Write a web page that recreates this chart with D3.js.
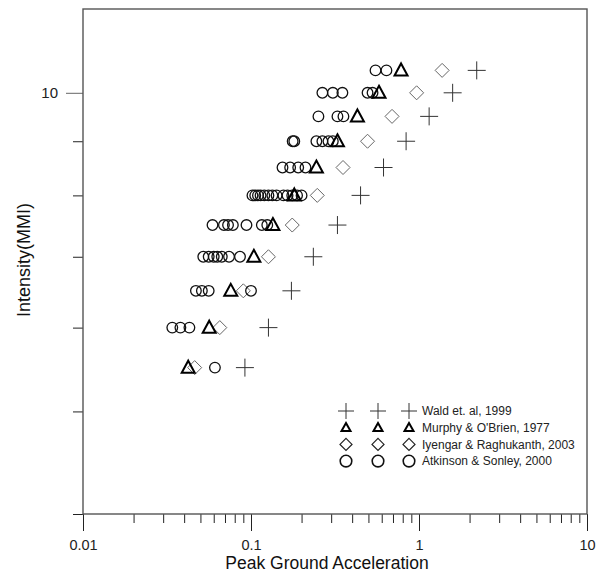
<!DOCTYPE html>
<html>
<head>
<meta charset="utf-8">
<script src="https://cdn.jsdelivr.net/npm/d3@7"></script>
<style>
  body { margin: 0; background: #fff; }
  svg { font-family: "Liberation Sans", Arial, sans-serif; }
</style>
</head>
<body>
<svg id="chart" width="598" height="573"></svg>
<script>
// MMI levels (rows of the plot)
const intensity = [5.5, 6, 6.5, 7, 7.5, 8, 8.5, 9, 9.5, 10, 10.5];

// PGA (g) for each intensity
const waldPga = [0.092, 0.127, 0.174, 0.235, 0.327, 0.449, 0.615, 0.838, 1.149, 1.586, 2.206];
const murphyPga = [0.0423, 0.0564, 0.0758, 0.104, 0.135, 0.181, 0.245, 0.327, 0.430, 0.578, 0.782];
const iyengarPga = [0.0462, 0.0652, 0.090, 0.127, 0.176, 0.248, 0.353, 0.494, 0.691, 0.968, 1.373];
// Atkinson & Sonley: several stations per intensity
const atkinsonPga = [
  [0.061],
  [0.034, 0.038, 0.043],
  [0.047, 0.051, 0.056, 0.100],
  [0.052, 0.056, 0.060, 0.063, 0.067, 0.074, 0.086],
  [0.059, 0.069, 0.073, 0.078, 0.094, 0.116, 0.125],
  [0.102, 0.106, 0.110, 0.114, 0.120, 0.127, 0.134, 0.142, 0.156, 0.165, 0.176, 0.188, 0.200],
  [0.154, 0.171, 0.191, 0.211],
  [0.177, 0.181, 0.245, 0.266, 0.289, 0.307],
  [0.252, 0.327, 0.355],
  [0.266, 0.307, 0.350, 0.494, 0.529],
  [0.551, 0.64]
];

const legendLabels = ["Wald et. al, 1999", "Murphy & O'Brien, 1977", "Iyengar & Raghukanth, 2003", "Atkinson & Sonley, 2000"];
const xMajor = [0.01, 0.1, 1, 10];
const yTicks = [4, 5, 6, 7, 8, 9, 10];

var svg = d3.select("#chart");

var x = d3.scaleLog().domain([0.01, 10]).range([83, 587]);
var y = d3.scaleLog().domain([4, 12]).range([514, 9]);

var axisColor = "#555";

// minor + major ticks on x
var xTicks = [];
xMajor.forEach(function(m, i) {
  xTicks.push(m);
  if (i < xMajor.length - 1)
    for (var k = 2; k <= 9; k++) xTicks.push(+(m * k).toPrecision(3));
});

var xAxis = svg.append("g")
  .attr("transform", "translate(0,514)")
  .call(d3.axisBottom(x)
    .tickValues(xTicks)
    .tickSize(9)
    .tickSizeOuter(0)
    .tickFormat(function(d) { return xMajor.indexOf(d) >= 0 ? String(d) : ""; }));

xAxis.select(".domain").remove();
xAxis.selectAll(".tick line").attr("stroke", "#222").attr("stroke-width", 1);
xAxis.selectAll(".tick")
  .filter(function(d) { return xMajor.indexOf(d) >= 0; })
  .select("line").attr("y2", 17);
xAxis.selectAll(".tick text")
  .attr("y", 26)
  .attr("dy", "0.71em")
  .attr("font-size", 14.5)
  .attr("fill", "#222")
  .attr("font-family", "Liberation Sans, Arial, sans-serif");

var yAxis = svg.append("g")
  .attr("transform", "translate(83,0)")
  .call(d3.axisLeft(y)
    .tickValues(yTicks)
    .tickSize(10)
    .tickSizeOuter(0)
    .tickFormat(function(d) { return d === 10 ? "10" : ""; }));

yAxis.select(".domain").remove();
yAxis.selectAll(".tick line").attr("stroke", "#222").attr("stroke-width", 1);
yAxis.selectAll(".tick")
  .filter(function(d) { return d === 10; })
  .select("line").attr("x2", -17).attr("stroke", "#666");
yAxis.selectAll(".tick text")
  .attr("x", -25)
  .attr("font-size", 15)
  .attr("fill", "#222")
  .attr("font-family", "Liberation Sans, Arial, sans-serif");

// frame
svg.append("rect")
  .attr("x", x.range()[0])
  .attr("y", y.range()[1])
  .attr("width", x.range()[1] - x.range()[0])
  .attr("height", y.range()[0] - y.range()[1])
  .attr("fill", "none")
  .attr("stroke", axisColor)
  .attr("stroke-width", 1.4);

// axis titles
svg.append("text")
  .attr("x", 327)
  .attr("y", 569)
  .attr("text-anchor", "middle")
  .attr("font-size", 17.5)
  .attr("fill", "#111")
  .text("Peak Ground Acceleration");

svg.append("text")
  .attr("transform", "translate(30,260) rotate(-90)")
  .attr("text-anchor", "middle")
  .attr("font-size", 18)
  .attr("fill", "#111")
  .text("Intensity(MMI)");

// marker shapes
const plusPath = function(a) { return "M" + (-a) + ",0H" + a + "M0," + (-a) + "V" + a; };
const triPath = function(w, h) { return "M0," + (-h * 0.58) + "L" + (w / 2) + "," + (h * 0.42) + "L" + (-w / 2) + "," + (h * 0.42) + "Z"; };
const diamondPath = function(a) { return "M0," + (-a) + "L" + a + ",0L0," + a + "L" + (-a) + ",0Z"; };

var plot = svg.append("g");

// Iyengar diamonds
plot.selectAll(".iyengar")
  .data(intensity.map(function(d, i) { return { i: d, pga: iyengarPga[i] }; }))
  .enter().append("path")
  .attr("class", "iyengar")
  .attr("transform", function(d) { return "translate(" + x(d.pga) + "," + y(d.i) + ")"; })
  .attr("d", diamondPath(7))
  .attr("fill", "none")
  .attr("stroke", "#666")
  .attr("stroke-width", 1);

// Atkinson circles
var atkPoints = [];
intensity.forEach(function(d, i) {
  atkinsonPga[i].forEach(function(p) { atkPoints.push({ i: d, pga: p }); });
});
plot.selectAll(".atkinson")
  .data(atkPoints)
  .enter().append("circle")
  .attr("class", "atkinson")
  .attr("cx", function(d) { return x(d.pga); })
  .attr("cy", function(d) { return y(d.i); })
  .attr("r", 5.3)
  .attr("fill", "none")
  .attr("stroke", "#111")
  .attr("stroke-width", 1.3);

// Murphy triangles
plot.selectAll(".murphy")
  .data(intensity.map(function(d, i) { return { i: d, pga: murphyPga[i] }; }))
  .enter().append("path")
  .attr("class", "murphy")
  .attr("transform", function(d) { return "translate(" + x(d.pga) + "," + y(d.i) + ")"; })
  .attr("d", triPath(13, 12))
  .attr("fill", "none")
  .attr("stroke", "#000")
  .attr("stroke-width", 2)
  .attr("stroke-linejoin", "miter");

// Wald plus
plot.selectAll(".wald")
  .data(intensity.map(function(d, i) { return { i: d, pga: waldPga[i] }; }))
  .enter().append("path")
  .attr("class", "wald")
  .attr("transform", function(d) { return "translate(" + x(d.pga) + "," + y(d.i) + ")"; })
  .attr("d", plusPath(9))
  .attr("fill", "none")
  .attr("stroke", "#333")
  .attr("stroke-width", 1);

// legend
var legend = svg.append("g").attr("transform", "translate(0,411)");
var legendMarkX = [346, 378, 409];
var legendRows = legend.selectAll(".row")
  .data(legendLabels)
  .enter().append("g")
  .attr("class", "row")
  .attr("transform", function(d, i) { return "translate(0," + (i * 16.7) + ")"; });

legendRows.each(function(label, i) {
  var row = d3.select(this);
  legendMarkX.forEach(function(mx) {
    var g = row.append("g").attr("transform", "translate(" + mx + ",0)");
    if (i === 0)
      g.append("path").attr("d", plusPath(8)).attr("stroke", "#333").attr("stroke-width", 1).attr("fill", "none");
    else if (i === 1)
      g.append("path").attr("d", triPath(9, 8)).attr("stroke", "#000").attr("stroke-width", 2).attr("fill", "none");
    else if (i === 2)
      g.append("path").attr("d", diamondPath(6)).attr("stroke", "#222").attr("stroke-width", 1.2).attr("fill", "none");
    else
      g.append("circle").attr("r", 5.8).attr("stroke", "#111").attr("stroke-width", 1.6).attr("fill", "none");
  });
  row.append("text")
    .attr("x", 422)
    .attr("dy", "0.35em")
    .attr("font-size", 12)
    .attr("fill", "#222")
    .text(label);
});
</script>
</body>
</html>
